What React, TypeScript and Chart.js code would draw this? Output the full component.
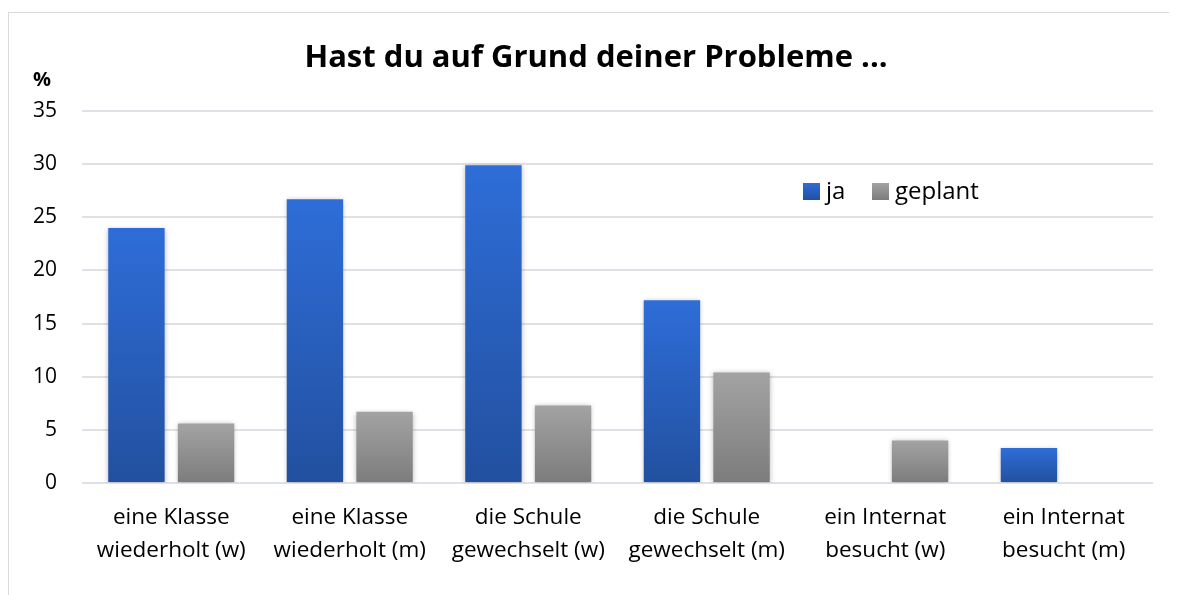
import React, { useEffect, useRef } from "react";
import { Chart, registerables } from "chart.js";

Chart.register(...registerables);

const categories: string[][] = [
  ["eine Klasse", "wiederholt (w)"],
  ["eine Klasse", "wiederholt (m)"],
  ["die Schule", "gewechselt (w)"],
  ["die Schule", "gewechselt (m)"],
  ["ein Internat", "besucht (w)"],
  ["ein Internat", "besucht (m)"],
];
const jaValues = [24.0, 26.7, 29.9, 17.2, 0, 3.3];
const geplantValues = [5.6, 6.7, 7.3, 10.4, 4.0, 0];
const seriesNames = ["ja", "geplant"];
const yTicks = [0, 5, 10, 15, 20, 25, 30, 35];
const titleText = "Hast du auf Grund deiner Probleme ...";
const unitText = "%";

const FONT = "'Open Sans', Lato, sans-serif";
const BLUE_TOP = "#2E6DD8";
const BLUE_BOTTOM = "#22509F";
const GRAY_TOP = "#A3A3A3";
const GRAY_BOTTOM = "#7C7C7C";

function gradientFill(top: string, bottom: string) {
  return (ctx: any) => {
    const chart = ctx.chart;
    if (!chart.chartArea || ctx.type !== "data" || !chart.scales.y) return top;
    const ys = chart.scales.y;
    const t = ys.getPixelForValue(ctx.raw);
    const b = ys.getPixelForValue(0);
    if (!isFinite(t) || !isFinite(b) || b - t < 1) return top;
    const g = chart.ctx.createLinearGradient(0, t, 0, b);
    g.addColorStop(0, top);
    g.addColorStop(1, bottom);
    return g;
  };
}

const decorPlugin = {
  id: "decor",
  beforeDatasetsDraw(chart: any) {
    const c = chart.ctx;
    c.save();
    c.shadowColor = "rgba(0,0,0,0.28)";
    c.shadowBlur = 5;
    c.shadowOffsetX = 0;
    c.shadowOffsetY = 1;
  },
  afterDatasetsDraw(chart: any) {
    chart.ctx.restore();
  },
  afterDraw(chart: any) {
    const c = chart.ctx;
    c.save();
    // title
    c.fillStyle = "#000";
    c.font = `bold 31px ${FONT}`;
    c.textAlign = "center";
    c.textBaseline = "alphabetic";
    c.fillText(titleText, 587, 54);
    // unit label
    c.font = `bold 20px ${FONT}`;
    c.textAlign = "left";
    c.fillText(unitText, 24, 73);
    // legend
    const items = [
      { label: seriesNames[0], top: BLUE_TOP, bottom: BLUE_BOTTOM, x: 794 },
      { label: seriesNames[1], top: GRAY_TOP, bottom: GRAY_BOTTOM, x: 863 },
    ];
    const sqTop = 170;
    c.font = `24px ${FONT}`;
    c.textBaseline = "alphabetic";
    for (const it of items) {
      const g = c.createLinearGradient(0, sqTop, 0, sqTop + 17);
      g.addColorStop(0, it.top);
      g.addColorStop(1, it.bottom);
      c.fillStyle = g;
      c.fillRect(it.x, sqTop, 17, 17);
      c.fillStyle = "#000";
      c.fillText(it.label, it.x + 23, 186);
    }
    c.restore();
  },
};

export default function App() {
  const ref = useRef<HTMLCanvasElement | null>(null);
  useEffect(() => {
    if (!ref.current) return;
    const chart = new Chart(ref.current, {
      type: "bar",
      data: {
        labels: categories,
        datasets: [
          {
            label: seriesNames[0],
            data: jaValues,
            backgroundColor: gradientFill(BLUE_TOP, BLUE_BOTTOM),
            borderWidth: 0,
            categoryPercentage: 0.78,
            barPercentage: 0.81,
          },
          {
            label: seriesNames[1],
            data: geplantValues,
            backgroundColor: gradientFill(GRAY_TOP, GRAY_BOTTOM),
            borderWidth: 0,
            categoryPercentage: 0.78,
            barPercentage: 0.81,
          },
        ],
      },
      options: {
        animation: false,
        responsive: false,
        maintainAspectRatio: false,
        layout: { padding: { top: 98, left: 0, right: 16, bottom: 18 } },
        plugins: {
          legend: { display: false },
          title: { display: false },
          tooltip: { enabled: false },
        },
        scales: {
          x: {
            grid: { display: false, drawTicks: false },
            border: { display: false },
            ticks: {
              color: "#000",
              font: { family: FONT, size: 22.5, lineHeight: "33px" },
              padding: 18,
              maxRotation: 0,
              autoSkip: false,
            },
            afterFit: (s: any) => {
              s.height = 100;
            },
          },
          y: {
            min: 0,
            max: 35,
            afterBuildTicks: (s: any) => {
              s.ticks = yTicks.map((v) => ({ value: v }));
            },
            grid: { color: "#DEE2E7", lineWidth: 2, drawTicks: false },
            border: { display: false },
            ticks: {
              color: "#000",
              font: { family: FONT, size: 21 },
              padding: 25,
            },
            afterFit: (s: any) => {
              s.width = 73;
            },
          },
        },
      },
      plugins: [decorPlugin],
    });
    return () => chart.destroy();
  }, []);

  return (
    <div
      style={{
        width: 1162,
        height: 590,
        marginTop: 4,
        border: "1px solid #D9D9D9",
        boxSizing: "border-box",
        position: "relative",
        background: "#fff",
      }}
    >
      <canvas ref={ref} width={1160} height={588} style={{ display: "block" }} />
    </div>
  );
}
